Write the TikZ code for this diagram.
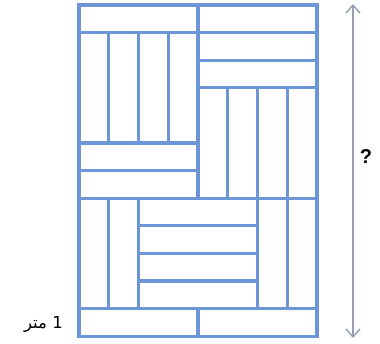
\documentclass[tikz,border=0pt]{standalone}
\usepackage{fontspec}
\setmainfont{Liberation Sans}
\newfontfamily\arabicfont[Script=Arabic]{DejaVu Sans}
\TeXXeTstate=1
\usetikzlibrary{arrows.meta}
\definecolor{plankblue}{RGB}{108,150,214}
\definecolor{arrowgray}{RGB}{150,158,178}
\tikzset{
  plank/.style={draw=plankblue, line width=3.2pt, line join=miter},
  dimarrow/.style={draw=arrowgray, line width=1.4pt, {Straight Barb[length=8pt,width=14pt]}-{Straight Barb[length=8pt,width=14pt]}},
  qlabel/.style={font=\bfseries\fontsize{20}{24}\selectfont, inner sep=0pt},
  mlabel/.style={font=\fontsize{16.5}{20}\selectfont, inner sep=0pt}
}
\begin{document}
\begin{tikzpicture}[x=1pt,y=-1pt]
\useasboundingbox (0,0) rectangle (380,343);
\begin{scope}[shift={(79,5)}, x=29.75pt, y=-27.6pt]
  % top row
  \draw[plank] (0,0) rectangle (4,1);
  \draw[plank] (4,0) rectangle (8,1);
  % left verticals
  \foreach \i in {0,...,3} \draw[plank] (\i,1) rectangle (\i+1,5);
  % left horizontals
  \draw[plank] (0,5) rectangle (4,6);
  \draw[plank] (0,6) rectangle (4,7);
  % right horizontals
  \draw[plank] (4,1) rectangle (8,2);
  \draw[plank] (4,2) rectangle (8,3);
  % right verticals
  \foreach \i in {4,...,7} \draw[plank] (\i,3) rectangle (\i+1,7);
  % bottom section
  \draw[plank] (0,7) rectangle (1,11);
  \draw[plank] (1,7) rectangle (2,11);
  \foreach \j in {7,...,10} \draw[plank] (2,\j) rectangle (6,\j+1);
  \draw[plank] (6,7) rectangle (7,11);
  \draw[plank] (7,7) rectangle (8,11);
  % bottom row
  \draw[plank] (0,11) rectangle (4,12);
  \draw[plank] (4,11) rectangle (8,12);
\end{scope}
\coordinate (atop) at (353,4);
\coordinate (abot) at (353,338);
\draw[dimarrow] (atop) -- (abot);
\node[qlabel] (q) at (366,157) {?};
\node[mlabel, anchor=east] (m) at (63,324) {\arabicfont\beginR 1 متر\endR};
\end{tikzpicture}
\end{document}
